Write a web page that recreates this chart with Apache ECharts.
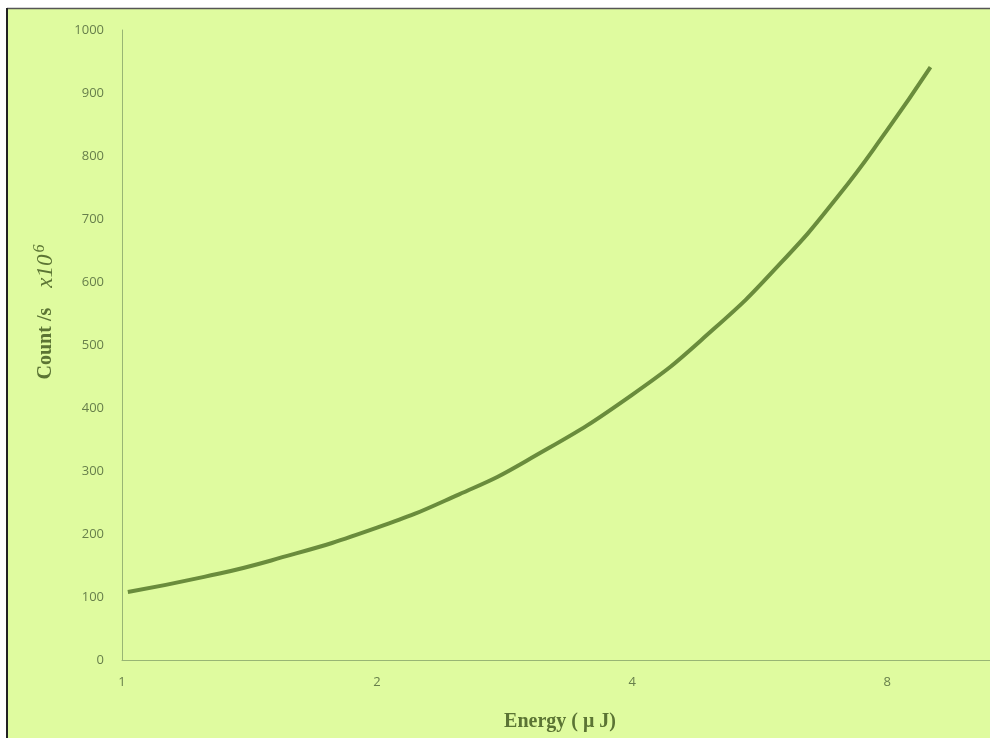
<!DOCTYPE html>
<html>
<head>
<meta charset="utf-8">
<script src="https://cdn.jsdelivr.net/npm/echarts@6/dist/echarts.min.js"></script>
<style>
html,body{margin:0;padding:0;background:#fff;}
#chart{width:990px;height:738px;}
</style>
</head>
<body>
<div id="chart"></div>
<script>
// Energy (µJ) values and corresponding counts (x10^6 /s)
var energy = [1.016, 1.25, 1.5, 2, 2.5, 3, 4, 5, 6, 7, 8, 9];
var counts = [108, 132, 158, 210, 263, 316, 421, 526, 631, 736, 841, 941];
var xTickLabels = [1, 2, 4, 8];
var xMin = 1, xMax = 10.58;   // axis runs to the right edge of the cropped picture
var yMin = 0, yMax = 1000, yStep = 100;

var bg = '#dffb9f';
var axisCol = '#98b574';
var labelCol = '#677f4b';
var titleCol = '#5b7434';

var chart = echarts.init(document.getElementById('chart'));
chart.setOption({
  backgroundColor: '#ffffff',
  animation: false,
  graphic: [
    {type: 'rect', z: -10, shape: {x: 8, y: 9, width: 990, height: 740}, style: {fill: bg}},
    {type: 'line', z: 100, shape: {x1: 7, y1: 8.5, x2: 990, y2: 8.5}, style: {stroke: '#555', lineWidth: 1.5}},
    {type: 'line', z: 100, shape: {x1: 7, y1: 8, x2: 7, y2: 738}, style: {stroke: '#222', lineWidth: 2}},
    {type: 'text', z: 100, x: 560, y: 722, style: {
      text: 'Energy ( μ J)', fill: titleCol, font: 'bold 20px "Liberation Serif", serif',
      align: 'center', verticalAlign: 'middle'}},
    {type: 'text', z: 100, x: 46, y: 312, rotation: Math.PI / 2, style: {
      text: '{a|Count /s}      {b|x10}{c|6}', align: 'center', verticalAlign: 'middle',
      rich: {
        a: {fill: titleCol, font: 'bold 20px "Liberation Serif", serif'},
        b: {fill: titleCol, font: 'italic 23px "Liberation Serif", serif'},
        c: {fill: titleCol, font: 'italic 16px "Liberation Serif", serif', verticalAlign: 'top', padding: [0, 0, 12, 2]}
      }}}
  ],
  grid: {left: 122, top: 30, bottom: 78, right: 0, containLabel: false},
  xAxis: {
    type: 'log', logBase: 2, min: xMin, max: xMax,
    axisLine: {lineStyle: {color: axisCol, width: 1}},
    axisTick: {show: false},
    splitLine: {show: false},
    axisLabel: {
      color: labelCol, fontSize: 13, fontFamily: 'Open Sans, sans-serif', margin: 16,
      showMaxLabel: false,
      formatter: function (v) {
        for (var i = 0; i < xTickLabels.length; i++) {
          if (Math.abs(v - xTickLabels[i]) < 1e-6) return String(xTickLabels[i]);
        }
        return '';
      }
    }
  },
  yAxis: {
    type: 'value', min: yMin, max: yMax, interval: yStep,
    axisLine: {show: true, lineStyle: {color: axisCol, width: 1}},
    axisTick: {show: false},
    splitLine: {show: false},
    axisLabel: {color: labelCol, fontSize: 13, fontFamily: 'Open Sans, sans-serif', margin: 18,
      formatter: function (v) { return String(v); }}
  },
  series: [{
    type: 'line',
    data: energy.map(function (e, i) { return [e, counts[i]]; }),
    smooth: true,
    showSymbol: false,
    lineStyle: {color: '#6a8c3c', width: 4}
  }]
});
</script>
</body>
</html>
